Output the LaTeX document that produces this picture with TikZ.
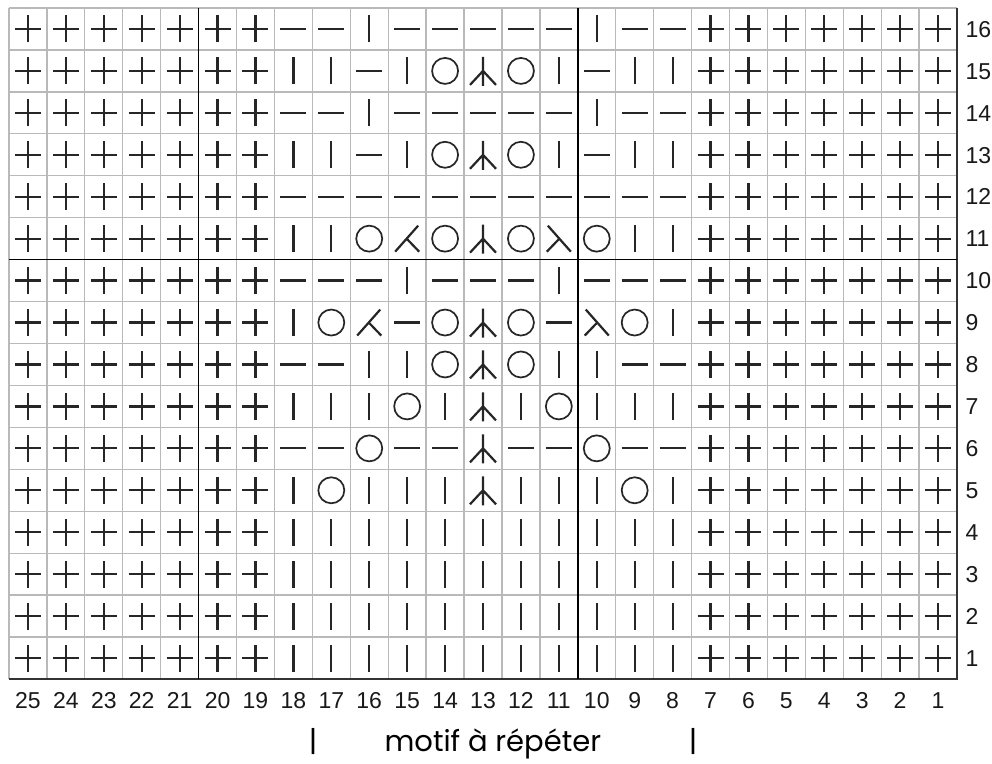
\documentclass[tikz,border=0pt]{standalone}
\usepackage{fontspec}
\setmainfont{Liberation Sans}
\newfontfamily\motiffont{Poppins}

\begin{document}
\begin{tikzpicture}[x=37.92pt, y=-41.9375pt]
    % styles
    \tikzset{
      gridline/.style = {line width=1.3pt, draw=gray!55},
      divider/.style  = {line width=1.6pt, draw=black},
      frame/.style    = {line width=2.2pt, draw=black!80},
      stitch/.style   = {line width=2.2pt, draw=black!85},
      hole/.style     = {line width=1.7pt, draw=black!85},
      collabel/.style = {inner sep=0pt, anchor=base, text=black!90, font=\fontsize{23}{23}\selectfont},
      rowlabel/.style = {collabel, anchor=base west},
      motif/.style    = {inner sep=0pt, anchor=base, font=\motiffont\fontsize{29}{29}\selectfont},
      gt/.pic  = {\draw[stitch] (-13pt,0pt) -- (13pt,0pt) (0pt,-13.5pt) -- (0pt,13.5pt);},
      kn/.pic  = {\draw[stitch] (0pt,-13.5pt) -- (0pt,13.5pt);},
      pu/.pic  = {\draw[stitch] (-13pt,0pt) -- (13pt,0pt);},
      yo/.pic  = {\draw[hole] (0pt,0pt) circle (13pt);},
      cdd/.pic = {\draw[stitch] (0pt,14pt) -- (0pt,-15pt) (-13pt,-14pt) -- (0pt,0pt) -- (13pt,-14pt);},
      ld/.pic  = {\draw[stitch] (11pt,13pt) -- (-12pt,-13pt) (-0.5pt,0pt) -- (12pt,-13pt);},
      rd/.pic  = {\draw[stitch] (-11pt,13pt) -- (12pt,-13pt) (0.5pt,0pt) -- (-12pt,-13pt);}
    }
    \path[fill=white] (-9pt,8pt) rectangle (983pt,-755pt);
    \useasboundingbox (-9pt,8pt) rectangle (983pt,-755pt);

    % Grid:
    \foreach \i in {0,...,24} \draw[gridline] (\i,0) -- (\i,16);
    \foreach \j in {0,...,15} \draw[gridline] (0,\j) -- (25,\j);
    \draw[frame] (0,16) -- (25,16) -- (25,0);
    \draw[divider] (5,0) -- (5,16);
    \draw[divider] (15,0) -- (15,16);
    \draw[divider] (0,6) -- (25,6);

    % Edge stitches:
    \foreach \j in {0,...,15}
      \foreach \i in {0,1,2,3,4,5,6,18,19,20,21,22,23,24}
        \pic at (\i+0.5,\j+0.5) {gt};

    % Lace panel, columns 18 to 8:
    \foreach \r/\st in {
        16/{pu,pu,kn,pu,pu,pu,pu,pu,kn,pu,pu},
        15/{kn,kn,pu,kn,yo,cdd,yo,kn,pu,kn,kn},
        14/{pu,pu,kn,pu,pu,pu,pu,pu,kn,pu,pu},
        13/{kn,kn,pu,kn,yo,cdd,yo,kn,pu,kn,kn},
        12/{pu,pu,pu,pu,pu,pu,pu,pu,pu,pu,pu},
        11/{kn,kn,yo,ld,yo,cdd,yo,rd,yo,kn,kn},
        10/{pu,pu,pu,kn,pu,pu,pu,kn,pu,pu,pu},
        9/{kn,yo,ld,pu,yo,cdd,yo,pu,rd,yo,kn},
        8/{pu,pu,kn,kn,yo,cdd,yo,kn,kn,pu,pu},
        7/{kn,kn,kn,yo,kn,cdd,kn,yo,kn,kn,kn},
        6/{pu,pu,yo,pu,pu,cdd,pu,pu,yo,pu,pu},
        5/{kn,yo,kn,kn,kn,cdd,kn,kn,kn,yo,kn},
        4/{kn,kn,kn,kn,kn,kn,kn,kn,kn,kn,kn},
        3/{kn,kn,kn,kn,kn,kn,kn,kn,kn,kn,kn},
        2/{kn,kn,kn,kn,kn,kn,kn,kn,kn,kn,kn},
        1/{kn,kn,kn,kn,kn,kn,kn,kn,kn,kn,kn}}
      \foreach \s [count=\n from 7] in \st
        \pic at (\n+0.5,16.5-\r) {\s};

    % Numbers:
    \foreach \c in {1,...,25}
      \node[collabel] (col\c) at (25.5-\c,16.70) {\c};
    \foreach \r in {1,...,16}
      \node[rowlabel] (row\r) at (25.22,16.696-\r) {\r};

    \node[motif] (motif) at (12.76,17.72) {motif à répéter};
    \node[motif] (barleft) at (8.02,17.72) {|};
    \node[motif] (barright) at (18.04,17.72) {|};
\end{tikzpicture}
\end{document}
